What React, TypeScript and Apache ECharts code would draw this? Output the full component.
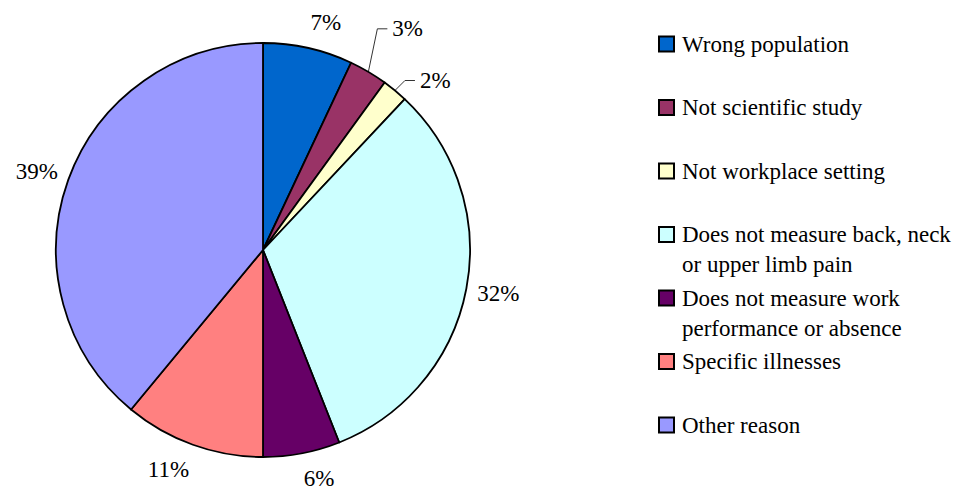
import { useEffect, useRef } from 'react';
import * as echarts from 'echarts';

// Reasons for exclusion and their share of all excluded studies (%)
const categories = [
  'Wrong population',
  'Not scientific study',
  'Not workplace setting',
  'Does not measure back, neck\nor upper limb pain',
  'Does not measure work\nperformance or absence',
  'Specific illnesses',
  'Other reason',
];
const shares = [7, 3, 2, 32, 6, 11, 39];
const colors = ['#0066CC', '#993366', '#FFFFCC', '#CCFFFF', '#660066', '#FF8080', '#9999FF'];

// Layout
const WIDTH = 965;
const HEIGHT = 499;
const CX = 263;
const CY = 250;
const RADIUS = 207;
const FONT = "'Liberation Serif', 'DejaVu Serif', serif";
const FONT_SIZE = 23;
const LABEL_GAP = 11;
// Labels pulled away from their slices get a leader line: elbow offset from the rim, then a short tail
const leaders: Record<number, { dx: number; dy: number; tail: number }> = {
  1: { dx: 9, dy: -43, tail: 10 },
  2: { dx: 10, dy: -10, tail: 10 },
};
const LEGEND_X = 659;
const LEGEND_TEXT_X = 682;
const LEGEND_TOP = 44;
const LEGEND_STEP = 63.5;
const LEGEND_LINE = 30;
const SWATCH = 15;

const total = shares.reduce((a, b) => a + b, 0);
const midAngles = shares.map((v, i) => {
  const before = shares.slice(0, i).reduce((a, b) => a + b, 0);
  return Math.PI / 2 - (2 * Math.PI * (before + v / 2)) / total;
});

export default function App() {
  const ref = useRef<HTMLDivElement>(null);

  useEffect(() => {
    if (!ref.current) return;
    const chart = echarts.init(ref.current, undefined, { renderer: 'svg' });

    const legendGraphics: any[] = [];
    categories.forEach((name, i) => {
      const y = LEGEND_TOP + LEGEND_STEP * i;
      legendGraphics.push({
        type: 'rect',
        shape: { x: LEGEND_X, y: y - SWATCH / 2, width: SWATCH, height: SWATCH },
        style: { fill: colors[i], stroke: '#000', lineWidth: 2 },
      });
      legendGraphics.push({
        type: 'text',
        x: LEGEND_TEXT_X,
        y: y - LEGEND_LINE / 2,
        style: {
          text: name,
          fill: '#000',
          fontFamily: FONT,
          fontSize: FONT_SIZE,
          lineHeight: LEGEND_LINE,
          verticalAlign: 'top',
          align: 'left',
        },
      });
    });

    chart.setOption({
      animation: false,
      backgroundColor: '#fff',
      textStyle: { fontFamily: FONT },
      graphic: legendGraphics,
      series: [
        {
          type: 'pie',
          center: [CX, CY],
          radius: RADIUS,
          startAngle: 90,
          clockwise: true,
          avoidLabelOverlap: false,
          itemStyle: { borderColor: '#000', borderWidth: 1.8 },
          emphasis: { disabled: true },
          label: {
            show: true,
            position: 'outside',
            color: '#000',
            fontFamily: FONT,
            fontSize: FONT_SIZE,
            formatter: (p: any) => `${Math.round(p.percent)}%`,
          },
          labelLine: {
            show: true,
            length: 10,
            length2: 10,
            smooth: false,
            lineStyle: { color: '#333', width: 1 },
          },
          labelLayout: (params: any) => {
            const i = params.dataIndex;
            const a = midAngles[i];
            const ux = Math.cos(a);
            const uy = -Math.sin(a);
            const lead = leaders[i];
            if (lead) {
              const rx = CX + RADIUS * ux;
              const ry = CY + RADIUS * uy;
              const ex = rx + lead.dx;
              const ey = ry + lead.dy;
              const tx = ex + lead.tail;
              return {
                x: tx + 5,
                y: ey,
                align: 'left',
                verticalAlign: 'middle',
                labelLinePoints: [
                  [rx, ry],
                  [ex, ey],
                  [tx, ey],
                ],
              };
            }
            const w = params.labelRect.width;
            const h = params.labelRect.height;
            return {
              x: CX + (RADIUS + LABEL_GAP) * ux + (Math.sign(ux) * w) / 2,
              y: CY + (RADIUS + LABEL_GAP) * uy + 0.65 * h * uy,
              align: 'center',
              verticalAlign: 'middle',
            };
          },
          data: categories.map((name, i) => ({
            name,
            value: shares[i],
            itemStyle: { color: colors[i] },
            labelLine: { show: leaders[i] != null },
          })),
        },
      ],
    });

    return () => chart.dispose();
  }, []);

  return (
    <div
      ref={ref}
      style={{ position: 'absolute', left: 0, top: 0, width: WIDTH, height: HEIGHT, background: '#fff' }}
    />
  );
}
